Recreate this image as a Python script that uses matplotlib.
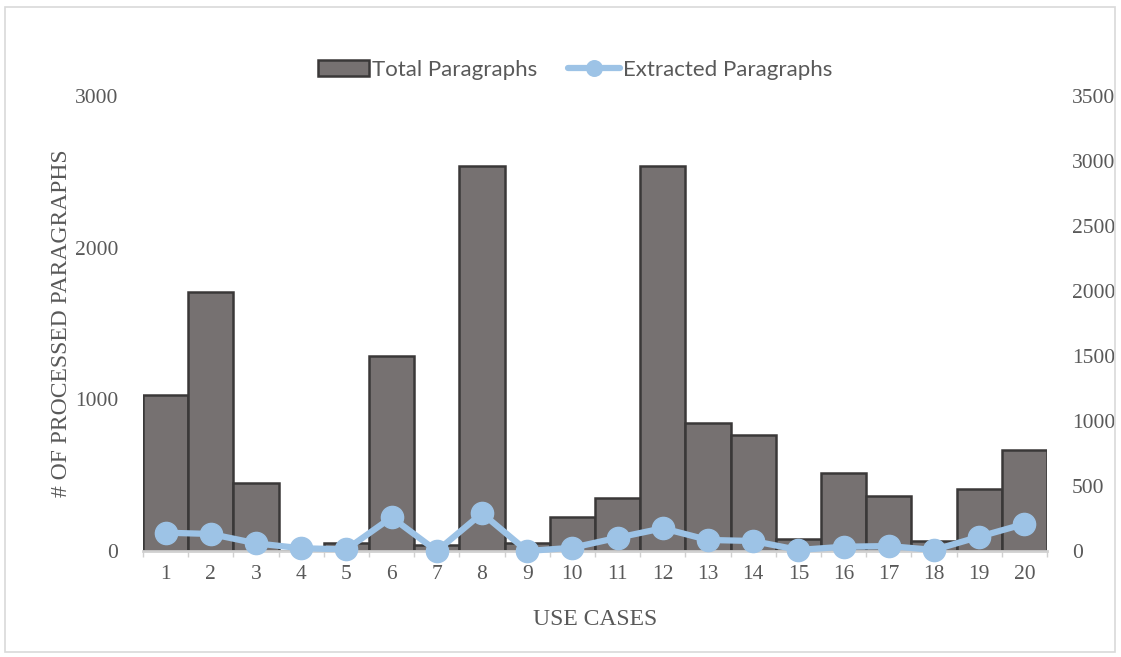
import matplotlib.pyplot as plt
import matplotlib.patches as mpatches
import numpy as np

cases = [str(i) for i in range(1, 21)]
total_paragraphs = [1030, 1710, 450, 0, 55, 1285, 42, 2540, 51, 227,
                    350, 2540, 843, 762, 77, 517, 364, 66, 406, 667]
extracted_paragraphs = [141, 131, 59, 21, 13, 259, 0, 290, 0, 25,
                        102, 175, 85, 77, 8, 33, 38, 8, 110, 208]

bar_color = '#767171'
bar_edge = '#3a3838'
line_color = '#9dc3e6'
text_color = '#595959'
serif = 'Liberation Serif'


def main():
    fig = plt.figure(figsize=(11.21, 6.57), dpi=100)
    ax = fig.add_axes([143 / 1121, 1 - 551 / 657, 904 / 1121, 455 / 657])
    ax2 = ax.twinx()

    x = np.arange(len(cases))
    ax.bar(x, total_paragraphs, width=1.0, color=bar_color, edgecolor=bar_edge,
           linewidth=1.8, label='Total Paragraphs', zorder=2)
    ax2.plot(x, extracted_paragraphs, '-o', color=line_color, lw=4.5,
             markersize=16, label='Extracted Paragraphs', zorder=3,
             solid_capstyle='round', clip_on=False)

    ax.set_xlim(-0.5, len(cases) - 0.5)
    ax.set_ylim(0, 3000)
    ax2.set_ylim(0, 3500)
    ax.set_yticks([0, 1000, 2000, 3000])
    ax2.set_yticks(np.arange(0, 3501, 500))
    ax.set_xticks(x)
    ax.set_xticklabels(cases)

    for a in (ax, ax2):
        for s in a.spines.values():
            s.set_visible(False)
        a.tick_params(length=0, labelsize=15.5, labelcolor=text_color)
        for lab in a.get_xticklabels() + a.get_yticklabels():
            lab.set_fontfamily(serif)
    ax.spines['bottom'].set_visible(True)
    ax.spines['bottom'].set_color('#d0d0d0')
    ax.spines['bottom'].set_linewidth(2)
    ax.tick_params(axis='y', pad=18)
    ax2.tick_params(axis='y', pad=18)
    ax.tick_params(axis='x', pad=10)

    # small boundary ticks between categories
    ax.set_xticks(np.arange(-0.5, len(cases)), minor=True)
    ax.tick_params(axis='x', which='minor', length=4, color='#d0d0d0', width=1)

    ax.set_xlabel('USE CASES', fontfamily=serif, fontsize=17,
                  color=text_color, labelpad=18)
    ax.set_ylabel('# OF PROCESSED PARAGRAPHS', fontfamily=serif, fontsize=17,
                  color=text_color, labelpad=2)

    h1, l1 = ax.get_legend_handles_labels()
    h2, l2 = ax2.get_legend_handles_labels()
    leg = fig.legend(h1 + h2, l1 + l2, loc='center', ncol=2,
                     bbox_to_anchor=(575 / 1121, 1 - 70 / 657), frameon=False,
                     prop={'family': 'Lato', 'size': 16},
                     handlelength=2.3, handletextpad=0.15, columnspacing=1.4,
                     markerscale=0.7)
    for t in leg.get_texts():
        t.set_color(text_color)

    # chart area border
    fig.patches.append(mpatches.Rectangle((5 / 1121, 5 / 657), 1110 / 1121, 645 / 657,
                                          transform=fig.transFigure, fill=False,
                                          edgecolor='#d9d9d9', linewidth=1.2))

    fig.savefig('out.png', dpi=100)


if __name__ == '__main__':
    main()
